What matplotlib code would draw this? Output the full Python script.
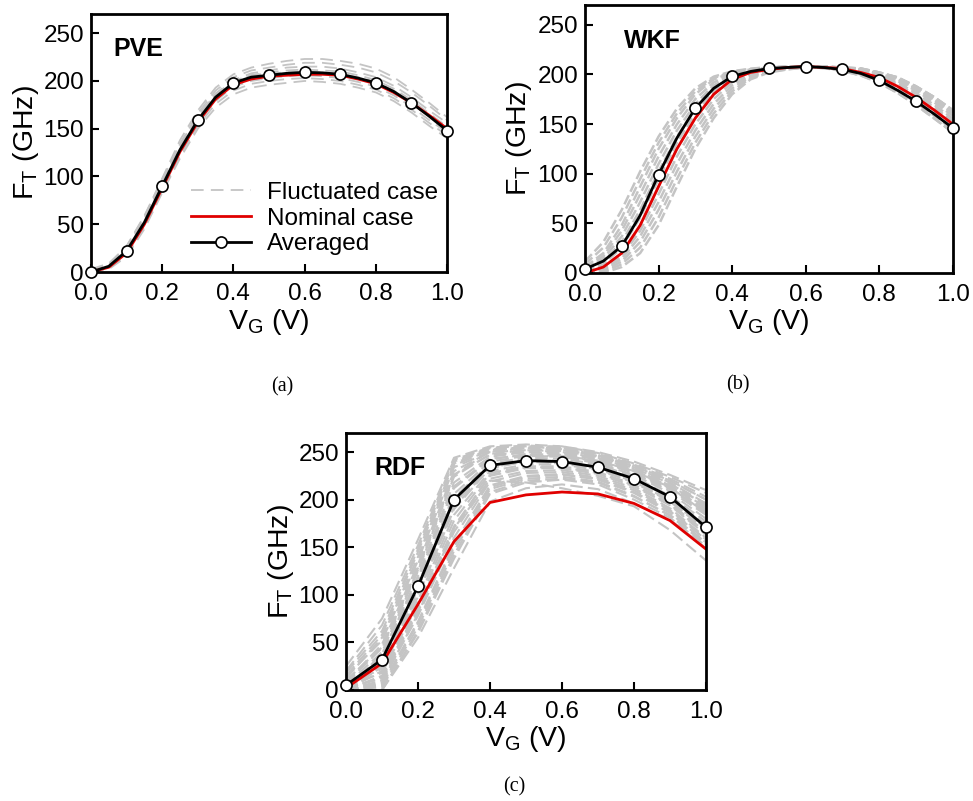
import matplotlib
matplotlib.use("Agg")
from matplotlib import pyplot as plt

plt.rcParams['font.family'] = ['Liberation Sans', 'DejaVu Sans']
plt.rcParams['mathtext.fontset'] = 'custom'
plt.rcParams['mathtext.rm'] = 'Liberation Sans'
plt.rcParams['mathtext.it'] = 'Liberation Sans:italic'

vg21 = [0.0, 0.05, 0.1, 0.15, 0.2, 0.25, 0.3, 0.35, 0.4, 0.45, 0.5,
        0.55, 0.6, 0.65, 0.7, 0.75, 0.8, 0.85, 0.9, 0.95, 1.0]
vg11 = [0.0, 0.1, 0.2, 0.3, 0.4, 0.5, 0.6, 0.7, 0.8, 0.9, 1.0]

# (a) PVE
pve_nominal = [0, 5, 20, 50, 88, 126, 157, 181, 196, 202, 205, 206, 207, 207, 206, 202, 197, 188, 177, 164, 150]
pve_avg = [0, 6, 22, 52, 90, 128, 159, 183, 198, 204, 206, 208, 209, 208.5, 207, 203, 198, 189, 177, 163, 148]
pve_fluct = [
    [2, 8, 27, 58, 98, 138, 169, 193, 207, 214, 218, 221, 223, 223, 221, 218, 213, 204, 191, 177, 162],
    [1, 7, 25, 56, 95, 134, 166, 190, 204, 211, 214, 217, 219, 219, 217, 214, 209, 200, 188, 174, 159],
    [1, 7, 24, 54, 93, 131, 163, 187, 201, 208, 211, 214, 215, 215, 213, 209, 204, 195, 183, 169, 156],
    [0, 6, 23, 53, 92, 130, 161, 185, 199, 206, 209, 211, 212, 211, 210, 206, 201, 192, 180, 166, 152],
    [0, 5, 20, 50, 88, 125, 156, 179, 194, 200, 203, 205, 206, 205, 203, 199, 194, 185, 173, 159, 146],
    [0, 4, 18, 47, 85, 122, 153, 176, 190, 197, 200, 202, 203, 202, 200, 196, 191, 182, 170, 156, 143],
    [0, 3, 16, 45, 83, 119, 150, 172, 186, 193, 196, 198, 200, 199, 197, 193, 188, 179, 167, 153, 140],
    [3, 9, 27, 59, 97, 134, 164, 186, 200, 206, 208, 209, 210, 209, 207, 204, 199, 190, 178, 164, 150],
]

# (b) WKF
wkf_nominal = [0, 6, 20, 48, 87, 125, 156, 180, 195, 202, 205, 207, 208, 207, 206, 202, 197, 188, 177, 164, 150]
wkf_avg = [4, 12, 27, 58, 99, 136, 166, 186, 198, 203, 206, 207, 208, 207, 205, 201, 194, 184, 173, 160, 146]
wkf_fluct = [
    [11.6, 31.2, 63.6, 102.2, 137.4, 165.6, 186, 197.8, 203.2, 205.8, 207.4, 207.6, 207.4, 206.4, 203.6, 199, 191.6, 181.4, 169.2, 155.6, 141.6],
    [8.8, 25.6, 55.8, 94.6, 131.2, 160.8, 183, 196.4, 202.6, 205.4, 207.2, 207.8, 207.4, 206.4, 203.6, 199, 191.6, 181.4, 169.2, 155.6, 141.6],
    [6, 20, 48, 87, 125, 156, 180, 195, 202, 205, 207, 208, 207.6, 206.6, 204.4, 200, 193.4, 183.6, 171.8, 158.4, 144.4],
    [4.8, 17.2, 42.4, 79.2, 117.4, 149.8, 175.2, 192, 200.6, 204.4, 206.6, 207.8, 207.8, 206.8, 205.2, 201, 195.2, 185.8, 174.4, 161.2, 147.2],
    [3.6, 14.4, 36.8, 71.4, 109.8, 143.6, 170.4, 189, 199.2, 203.8, 206.2, 207.6, 208, 207, 206, 202, 197, 188, 177, 164, 150],
    [2.4, 11.6, 31.2, 63.6, 102.2, 137.4, 165.6, 186, 197.8, 203.2, 205.8, 207.4, 207.8, 207.2, 206.2, 202.8, 198, 189.8, 179.2, 166.6, 152.8],
    [1.2, 8.8, 25.6, 55.8, 94.6, 131.2, 160.8, 183, 196.4, 202.6, 205.4, 207.2, 207.6, 207.4, 206.4, 203.6, 199, 191.6, 181.4, 169.2, 155.6],
    [0, 6, 20, 48, 87, 125, 156, 180, 195, 202, 205, 207, 207.4, 207.6, 206.6, 204.4, 200, 193.4, 183.6, 171.8, 158.4],
    [0, 4.8, 17.2, 42.4, 79.2, 117.4, 149.8, 175.2, 192, 200.6, 204.4, 206.6, 207.2, 207.8, 206.8, 205.2, 201, 195.2, 185.8, 174.4, 161.2],
    [0, 3.6, 14.4, 36.8, 71.4, 109.8, 143.6, 170.4, 189, 199.2, 203.8, 206.2, 207, 208, 207, 206, 202, 197, 188, 177, 164],
    [0, 2.4, 11.6, 31.2, 63.6, 102.2, 137.4, 165.6, 186, 197.8, 203.2, 205.8, 207, 208, 207, 206, 202, 197, 188, 177, 164],
    [0, 1.2, 8.8, 25.6, 55.8, 94.6, 131.2, 160.8, 183, 196.4, 202.6, 205.4, 207, 208, 207, 206, 202, 197, 188, 177, 164],
    [0, 0, 6, 20, 48, 87, 125, 156, 180, 195, 202, 205, 207.2, 207.8, 206.8, 205.2, 201, 195.2, 185.8, 174.4, 161.2],
]

# (c) RDF
rdf_nominal = [2, 28, 90, 156, 197, 205, 208, 206, 196, 178, 148]
rdf_avg = [5, 32, 109, 200, 236, 241, 240, 234, 222, 203, 171]
rdf_fluct = [
    [25, 75, 158, 244, 256, 258, 256, 249, 238, 224, 207],
    [20, 68, 152, 242, 255, 256, 253, 246, 235, 220, 200],
    [18, 62, 148, 240, 254, 257, 255, 248, 237, 222, 203],
    [15, 58, 145, 238, 253, 254, 250, 243, 230, 214, 196],
    [14, 52, 136, 234, 250, 252, 251, 245, 233, 217, 194],
    [12, 55, 140, 236, 252, 255, 254, 247, 236, 220, 200],
    [10, 45, 128, 226, 251, 256, 256, 250, 240, 226, 210],
    [8, 48, 132, 230, 250, 254, 252, 246, 234, 218, 196],
    [7, 44, 126, 226, 247, 250, 248, 243, 231, 214, 190],
    [5, 40, 125, 224, 248, 252, 250, 244, 232, 215, 192],
    [3, 36, 120, 218, 245, 250, 249, 242, 230, 212, 188],
    [0, 38, 118, 214, 243, 247, 246, 240, 229, 211, 186],
    [2, 33, 115, 212, 242, 248, 247, 240, 228, 209, 184],
    [0, 30, 110, 206, 240, 246, 245, 238, 226, 207, 180],
    [4, 28, 106, 202, 238, 244, 243, 237, 224, 204, 177],
    [0, 28, 104, 196, 235, 245, 246, 241, 230, 213, 186],
    [0, 25, 102, 196, 236, 242, 241, 235, 222, 202, 174],
    [0, 24, 100, 192, 234, 240, 238, 232, 219, 199, 170],
    [6, 22, 98, 190, 233, 240, 239, 233, 220, 200, 171],
    [0, 20, 94, 184, 230, 237, 237, 231, 218, 198, 168],
    [3, 18, 90, 178, 228, 235, 235, 229, 216, 196, 166],
    [0, 15, 86, 172, 225, 233, 233, 227, 214, 194, 163],
    [0, 14, 84, 170, 226, 234, 234, 228, 215, 195, 164],
    [2, 12, 82, 166, 222, 230, 231, 225, 212, 191, 160],
    [0, 10, 78, 160, 219, 228, 229, 223, 210, 189, 158],
    [0, 8, 80, 170, 220, 218, 212, 204, 193, 168, 136],
    [0, 6, 72, 153, 215, 225, 227, 221, 207, 186, 155],
    [0, 5, 70, 150, 213, 224, 226, 222, 208, 188, 158],
    [0, 3, 66, 146, 211, 222, 224, 219, 204, 183, 153],
    [0, 0, 62, 142, 208, 220, 222, 218, 203, 184, 155],
    [0, 0, 60, 138, 206, 218, 221, 216, 200, 181, 151],
    [0, 0, 55, 128, 198, 212, 216, 211, 196, 179, 149],
]

gray = '#c4c4c4'
red = '#e00000'


def style_axes(ax, tag, tag_x):
    ax.set_xlim(0, 1.0)
    ax.set_ylim(0, 270)
    ax.set_xticks(vg11[::2])
    ax.set_xticklabels([f"{v:.1f}" for v in vg11[::2]])
    ax.set_yticks([0, 50, 100, 150, 200, 250])
    ax.tick_params(direction='in', length=6, width=1.5, labelsize=17.5)
    ax.tick_params(axis='x', pad=8)
    ax.tick_params(axis='y', pad=5)
    for sp in ax.spines.values():
        sp.set_linewidth(2)
    ax.set_xlabel(r'$\mathrm{V_G}$ (V)', fontsize=20.5, labelpad=1)
    ax.set_ylabel(r'$\mathrm{F_T}$ (GHz)', fontsize=20.5, labelpad=2)
    ax.text(tag_x, 0.865, tag, transform=ax.transAxes, fontsize=18,
            fontweight='bold', va='center', ha='left')


def draw_panel(ax, x, fluct, nominal, avg, every, lw, dashes):
    for i, curve in enumerate(fluct):
        ax.plot(x, curve, color=gray, lw=lw, dashes=dashes,
                label='Fluctuated case' if i == 0 else None, zorder=1)
    ax.plot(x, nominal, color=red, lw=2, label='Nominal case', zorder=2)
    ax.plot(x, avg, color='black', lw=2, marker='o', markersize=8,
            markerfacecolor='white', markeredgecolor='black', markeredgewidth=1.2,
            markevery=every, label='Averaged', zorder=3, clip_on=False)


fig = plt.figure(figsize=(9.73, 8.01), dpi=100)
ax_a = fig.add_axes([0.0935, 0.6604, 0.366, 0.322])
ax_b = fig.add_axes([0.6012, 0.6592, 0.378, 0.3346])
ax_c = fig.add_axes([0.3556, 0.1386, 0.370, 0.3208])

draw_panel(ax_a, vg21, pve_fluct, pve_nominal, pve_avg, 2, 1.3, (7, 4))
draw_panel(ax_b, vg21, wkf_fluct, wkf_nominal, wkf_avg, 2, 1.8, (4, 1.6))
draw_panel(ax_c, vg11, rdf_fluct, rdf_nominal, rdf_avg, 1, 1.5, (6, 2.5))

style_axes(ax_a, 'PVE', 0.062)
style_axes(ax_b, 'WKF', 0.106)
style_axes(ax_c, 'RDF', 0.078)

ax_a.legend(loc='lower left', bbox_to_anchor=(0.28, 0.065), frameon=False,
            fontsize=17.5, handlelength=2.5, handletextpad=0.65,
            labelspacing=0.15, borderaxespad=0, borderpad=0)

fig.text(282 / 973, 1 - 387 / 801, '(a)', family='Liberation Serif', fontsize=14.5,
         ha='center', va='center')
fig.text(738 / 973, 1 - 385 / 801, '(b)', family='Liberation Serif', fontsize=14.5,
         ha='center', va='center')
fig.text(514 / 973, 1 - 787 / 801, '(c)', family='Liberation Serif', fontsize=14.5,
         ha='center', va='center')

plt.savefig("out.png", dpi=100)
plt.close()
